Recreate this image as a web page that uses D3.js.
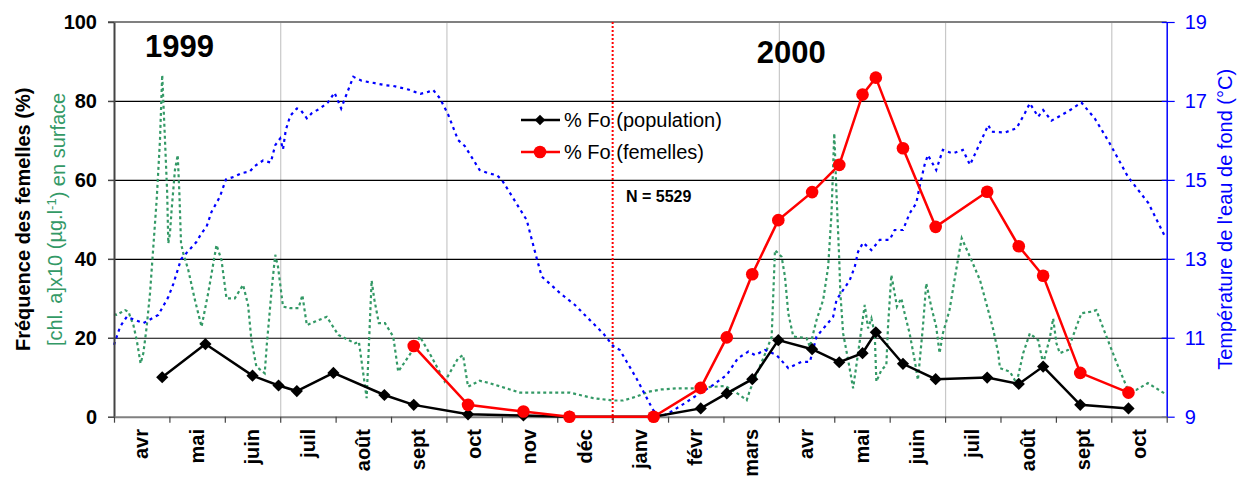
<!DOCTYPE html>
<html><head><meta charset="utf-8">
<script src="https://cdn.jsdelivr.net/npm/d3@7"></script>
<style>
body{margin:0;background:#fff}
svg{display:block;font-family:Arial,"Liberation Sans",sans-serif}
</style>
</head><body>
<svg id="chart" width="1240" height="477"></svg>
<script>
// ---- data ----
const monthLabels = ["avr","mai","juin","juil","août","sept","oct","nov","déc","janv","févr","mars","avr","mai","juin","juil","août","sept","oct"];
const leftTicks = [0,20,40,60,80,100];
const rightTicks = [9,11,13,15,17,19];
const yearLabels = ["1999","2000"];
const yearMonths = [0.56, 11.6];

// sampling dates expressed in months since 1 April 1999
const popMonths = [0.87,1.65,2.50,2.97,3.30,3.96,4.88,5.41,6.39,7.39,8.22,9.74,10.59,11.06,11.52,11.99,12.60,13.09,13.51,13.75,14.24,14.83,15.76,16.33,16.77,17.44,18.31];
const popValues = [10,18.4,10.4,7.9,6.5,11.1,5.5,3.0,0.6,0.3,0,0,2.1,5.9,9.5,19.4,17.1,13.8,16.1,21.4,13.4,9.5,9.9,8.3,12.7,3.0,2.1];

const femMonths = [5.41,6.39,7.39,8.22,9.74,10.59,11.06,11.52,11.99,12.60,13.09,13.51,13.75,14.24,14.83,15.76,16.33,16.77,17.44,18.31];
const femValues = [17.9,3.0,1.3,0,0,7.3,20.1,36.1,49.8,56.9,63.8,81.6,85.9,68.0,48.1,57.0,43.2,35.7,11.1,6.1];

const chlMonths = [0.00,0.05,0.20,0.26,0.35,0.41,0.48,0.53,0.59,0.65,0.71,0.77,0.83,0.87,0.92,0.96,0.98,1.01,1.04,1.10,1.15,1.18,1.21,1.25,1.34,1.46,1.58,1.70,1.85,1.94,2.03,2.18,2.33,2.42,2.48,2.57,2.72,2.76,2.85,2.91,2.96,3.05,3.18,3.33,3.40,3.48,3.63,3.84,4.05,4.35,4.42,4.56,4.65,4.70,4.78,4.89,5.04,5.13,5.25,5.43,5.52,5.73,5.97,6.21,6.30,6.39,6.60,6.78,7.33,8.23,8.65,9.01,9.19,9.43,9.64,9.88,10.18,10.48,11.03,11.21,11.42,11.48,11.63,11.78,11.87,11.93,12.05,12.11,12.17,12.26,12.50,12.56,12.68,12.80,12.89,12.95,13.00,13.04,13.09,13.11,13.16,13.25,13.34,13.43,13.52,13.55,13.61,13.67,13.73,13.76,13.85,13.94,13.97,14.03,14.09,14.13,14.21,14.27,14.36,14.45,14.51,14.60,14.66,14.75,14.84,14.90,14.96,15.08,15.21,15.30,15.45,15.63,15.81,15.87,15.96,15.99,16.17,16.29,16.41,16.53,16.68,16.77,16.89,16.95,17.01,17.07,17.22,17.37,17.46,17.64,17.73,17.88,18.09,18.30,18.45,18.66,18.96];
const chlValues = [26,25.8,27.0,26.6,23.2,19.4,13.5,16.1,22.8,31.3,43.1,54.9,70.1,86.6,70.1,56.6,43.9,46.5,52.4,62.5,66.3,56.6,43.9,41.4,37.2,29.6,22.8,31.3,43.5,39.7,30.0,30.0,33.4,28.3,19.4,12.7,11.0,18.6,32.9,41.0,38.0,27.9,27.5,27.5,30.8,23.2,24.1,25.3,20.7,18.6,19.0,4.7,34.5,29.6,23.7,23.7,20.3,11.4,13.9,17.7,20.3,15.2,8.9,14.8,15.6,7.6,9.1,8.5,6.1,6.1,4.7,4.1,4.1,5.1,6.3,6.9,7.2,7.2,7.8,6.3,4.2,6.8,11.8,16.9,20.3,42.2,40.5,35.5,26.2,20.3,19.9,17.7,24.5,29.6,38.0,51.5,71.8,56.6,39.7,31.3,21.1,14.4,7.2,16.1,25.3,28.3,22.4,24.9,21.1,8.9,11.8,13.1,22.8,35.9,31.3,27.9,30.0,26.2,21.1,14.4,9.3,22.8,33.8,27.9,22.8,16.1,21.1,27.0,38.0,45.2,40.5,34.6,25.3,22.0,16.1,12.3,11.4,8.5,16.1,21.1,19.4,13.5,19.9,24.9,18.6,16.1,16.9,22.8,26.2,26.6,27.0,21.5,13.9,6.8,6.8,8.5,5.9];

const tempMonths = [0.00,0.11,0.23,0.38,0.53,0.80,0.98,1.07,1.21,1.31,1.49,1.58,1.67,1.76,1.91,2.02,2.17,2.30,2.45,2.54,2.69,2.83,2.91,3.00,3.05,3.10,3.18,3.30,3.37,3.48,3.57,3.72,3.86,3.98,4.10,4.17,4.32,4.47,4.71,4.89,5.04,5.19,5.31,5.43,5.53,5.67,5.76,5.88,6.03,6.21,6.33,6.60,6.75,6.91,7.00,7.45,7.51,7.63,7.72,7.96,8.05,8.32,8.53,8.83,9.01,9.13,9.43,9.73,9.88,10.06,10.30,10.57,10.81,11.06,11.26,11.45,11.57,11.75,11.96,12.17,12.41,12.56,12.68,12.83,12.98,13.04,13.16,13.28,13.37,13.43,13.52,13.67,13.82,14.00,14.09,14.24,14.36,14.48,14.54,14.63,14.69,14.84,14.96,15.14,15.32,15.45,15.60,15.78,15.84,16.08,16.29,16.44,16.53,16.68,16.77,16.92,17.10,17.28,17.46,17.70,17.97,18.30,18.67,18.97];
const tempValues = [10.82,11.28,11.53,11.45,11.37,11.58,12.03,12.36,12.99,13.15,13.43,13.65,13.81,14.19,14.57,15.01,15.08,15.17,15.21,15.35,15.49,15.44,15.88,16.05,15.77,16.26,16.62,16.81,16.77,16.56,16.69,16.81,16.96,17.21,16.81,17.07,17.61,17.51,17.45,17.40,17.38,17.33,17.29,17.23,17.18,17.23,17.28,17.07,16.66,16.01,15.86,15.25,15.17,15.12,15.00,13.98,13.65,13.01,12.55,12.25,12.13,11.83,11.53,11.11,10.79,10.69,9.97,9.17,9.0,9.13,9.34,9.59,9.80,10.06,10.48,10.65,10.56,10.69,10.56,10.23,10.39,10.39,11.03,11.28,11.53,11.96,12.21,12.46,12.80,13.18,13.41,13.22,13.48,13.48,13.73,13.73,14.15,14.41,14.83,15.38,15.63,15.25,15.76,15.67,15.76,15.38,15.84,16.39,16.22,16.20,16.31,16.69,16.94,16.60,16.77,16.50,16.64,16.79,16.96,16.56,15.93,15.08,14.41,13.56];

// ---- layout ----
const svg = d3.select("#chart");
const L = 114, R = 1166.7, T = 22, B = 416.7;
const x = d3.scaleLinear().domain([0, monthLabels.length]).range([L, R]);
const xBand = d3.scaleBand().domain(d3.range(monthLabels.length)).range([L, R]).padding(0);
const y = d3.scaleLinear().domain([0,100]).range([B, T]);
const yT = d3.scaleLinear().domain([9,19]).range([B, T]);

const green = "#339966", blue = "#0000ff";

// vertical gridlines
const vg = svg.append("g").attr("transform", `translate(0,${B})`)
  .call(d3.axisBottom(x).tickValues([3,6,12,15,18]).tickSize(-(B-T)).tickFormat(""));
vg.select(".domain").remove();
vg.selectAll("line").attr("stroke", "#c8c8c8").attr("stroke-width", 1.2);

// horizontal gridlines
const hg = svg.append("g").attr("transform", `translate(${L},0)`)
  .call(d3.axisLeft(y).tickValues([20,40,60,80]).tickSize(-(R-L)).tickFormat(""));
hg.select(".domain").remove();
hg.selectAll("line").attr("stroke", "#000").attr("stroke-width", 1.2);

// top border
svg.append("line").attr("x1", L-6).attr("x2", R).attr("y1", y(100)).attr("y2", y(100))
  .attr("stroke", "#808080").attr("stroke-width", 2);

// year separator
svg.append("line").attr("x1", x(9)).attr("x2", x(9)).attr("y1", T).attr("y2", B+6)
  .attr("stroke", "#ff0000").attr("stroke-width", 2).attr("stroke-dasharray", "2,2");

// chlorophyll (green dotted)
const lineChl = d3.line().x((d,i)=>x(chlMonths[i])).y(d=>y(d));
svg.append("path").datum(chlValues).attr("d", lineChl).attr("fill","none")
  .attr("stroke", green).attr("stroke-width", 2.2).attr("stroke-dasharray","3,3");

// temperature (blue dotted)
const lineT = d3.line().x((d,i)=>x(tempMonths[i])).y(d=>yT(d));
svg.append("path").datum(tempValues).attr("d", lineT).attr("fill","none")
  .attr("stroke", blue).attr("stroke-width", 2.2).attr("stroke-dasharray","3,4");

// left axis
const ax = svg.append("g").attr("transform", `translate(${L},0)`)
  .call(d3.axisLeft(y).tickValues(leftTicks).tickSize(6).tickPadding(11).tickSizeOuter(0));
ax.select(".domain").attr("stroke", "#444").attr("stroke-width", 2);
ax.selectAll("line").attr("stroke", "#444").attr("stroke-width", 1.5);
ax.selectAll("text").attr("font-size", 20).attr("font-weight", "bold").attr("fill", "#000");

// right axis
const ar = svg.append("g").attr("transform", `translate(${R},0)`)
  .call(d3.axisRight(yT).tickValues(rightTicks).tickSize(8).tickPadding(10).tickSizeOuter(0));
ar.select(".domain").attr("stroke", blue).attr("stroke-width", 1.5);
ar.selectAll("line").attr("stroke", blue).attr("stroke-width", 1.2).attr("x1", -5);
ar.selectAll("text").attr("font-size", 20).attr("fill", blue);

// bottom axis
const ab = svg.append("g").attr("transform", `translate(0,${B})`)
  .call(d3.axisBottom(x).tickValues(d3.range(0, monthLabels.length + 1)).tickSize(6).tickFormat("").tickSizeOuter(0));
ab.select(".domain").attr("stroke", "#808080").attr("stroke-width", 2);
ab.selectAll("line").attr("stroke", "#444").attr("stroke-width", 1.2);
svg.append("g").selectAll("text").data(monthLabels).join("text")
  .attr("transform", (d,i)=>`translate(${xBand(i)+xBand.bandwidth()/2},429) rotate(-90)`)
  .attr("text-anchor","end").attr("dy","0.33em")
  .attr("font-size", 20).attr("font-weight","bold").text(d=>d);

// population series
const linePop = d3.line().x((d,i)=>x(popMonths[i])).y(d=>y(d));
svg.append("path").datum(popValues).attr("d", linePop).attr("fill","none")
  .attr("stroke","#000").attr("stroke-width", 2.5);
const diamond = d3.symbol().type(d3.symbolDiamond2).size(95);
svg.append("g").selectAll("path").data(popValues).join("path")
  .attr("transform",(d,i)=>`translate(${x(popMonths[i])},${y(d)})`)
  .attr("d", diamond).attr("fill","#000");

// femelles series
const lineFem = d3.line().x((d,i)=>x(femMonths[i])).y(d=>y(d));
svg.append("path").datum(femValues).attr("d", lineFem).attr("fill","none")
  .attr("stroke","#ff0000").attr("stroke-width", 2.5);
svg.append("g").selectAll("circle").data(femValues).join("circle")
  .attr("cx",(d,i)=>x(femMonths[i])).attr("cy", d=>y(d)).attr("r", 6.3).attr("fill","#ff0000");

// legend
const lg = svg.append("g");
const legendItems = [{label:"% Fo (population)", color:"#000", sym:"diamond"},{label:"% Fo (femelles)", color:"#ff0000", sym:"circle"}];
legendItems.forEach((it, i) => {
  const yy = 120 + i*32;
  lg.append("line").attr("x1",521).attr("x2",560).attr("y1",yy).attr("y2",yy).attr("stroke",it.color).attr("stroke-width",2.5);
  if (it.sym === "diamond") lg.append("path").attr("d", d3.symbol().type(d3.symbolDiamond2).size(70)).attr("transform",`translate(540,${yy})`).attr("fill",it.color);
  else lg.append("circle").attr("cx",540).attr("cy",yy).attr("r",6.3).attr("fill",it.color);
  lg.append("text").attr("x",564).attr("y",yy+7).attr("font-size",20).text(it.label);
});

// annotations
svg.append("g").selectAll("text").data(yearLabels).join("text")
  .attr("x",(d,i)=>x(yearMonths[i])).attr("y",(d,i)=> i===0 ? 57 : 63)
  .attr("font-size",31).attr("font-weight","bold").text(d=>d);
svg.append("text").attr("x",626).attr("y",202).attr("font-size",16).attr("font-weight","bold").text("N = 5529");

// axis titles
svg.append("text").attr("transform",`translate(30,${(T+B)/2}) rotate(-90)`).attr("text-anchor","middle")
  .attr("font-size",20).attr("font-weight","bold").text("Fréquence des femelles (%)");
const gt = svg.append("text").attr("transform",`translate(62,${(T+B)/2}) rotate(-90)`).attr("text-anchor","middle")
  .attr("font-size",20).attr("fill",green);
gt.append("tspan").text("[chl. a]x10 (µg.l");
gt.append("tspan").attr("dy","-0.45em").attr("font-size",13).text("-1");
gt.append("tspan").attr("dy","0.45em").text(") en surface");
svg.append("text").attr("transform",`translate(1232,${(T+B)/2}) rotate(-90)`).attr("text-anchor","middle")
  .attr("font-size",20).attr("fill",blue).text("Température de l'eau de fond (°C)");
</script>
</body></html>
